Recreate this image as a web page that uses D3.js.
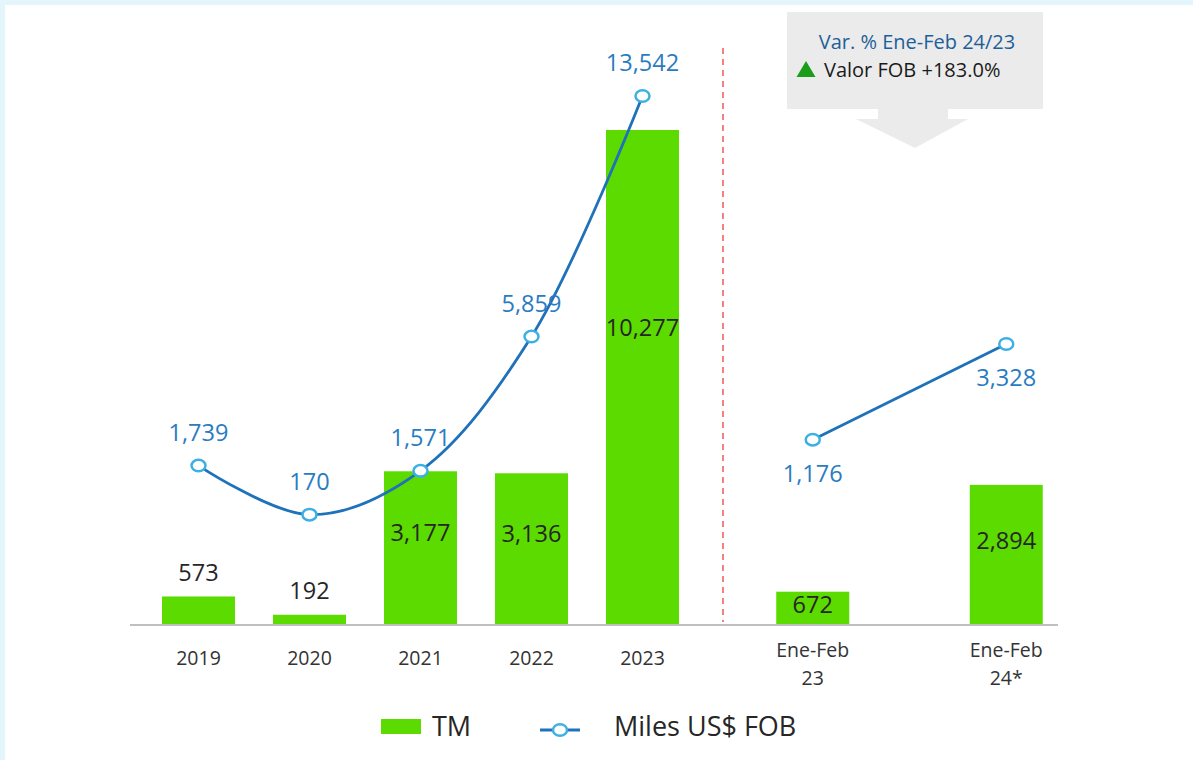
<!DOCTYPE html>
<html><head><meta charset="utf-8">
<script src="https://cdn.jsdelivr.net/npm/d3@7"></script>
<style>
html,body{margin:0;padding:0;background:#fff;}
svg{display:block;font-family:"Open Sans","Noto Sans",sans-serif;}
</style></head>
<body>
<svg id="chart" width="1193" height="760"></svg>
<script>
// ---- data ----
const yearCats = ["2019","2020","2021","2022","2023"];
const periodCats = ["Ene-Feb|23","Ene-Feb|24*"];
const tmYears = [573,192,3177,3136,10277];
const tmPeriods = [672,2894];
const fobYears = [1739,170,1571,5859,13542];
const fobPeriods = [1176,3328];
const legendLabels = ["TM","Miles US$ FOB"];
const calloutTitle = "Var. % Ene-Feb 24/23";
const calloutText = "Valor FOB +183.0%";

const svg = d3.select("#chart");
const W = 1193, H = 760;
const fmt = d3.format(",");

// frame
svg.append("rect").attr("x",0).attr("y",0).attr("width",W).attr("height",H).attr("fill","#e5f5fc");
svg.append("rect").attr("x",5).attr("y",5).attr("width",W-5).attr("height",H-5).attr("fill","#fff");

const baseline = 624;
const xYears = d3.scalePoint().domain(yearCats).range([143,698]).padding(0.5);
const xPer = d3.scalePoint().domain(periodCats).range([716,1103]).padding(0.5);
const yBar = d3.scaleLinear().domain([0, d3.max(tmYears.concat(tmPeriods))]).range([baseline,130]);
// the two panels each have their own value axis for the line
const yLineYears = d3.scaleLinear().domain([0, d3.max(fobYears)]).range([520,96]);
const yLinePer = d3.scaleLinear().domain([0, d3.max(fobPeriods)]).range([492,344]);
const barW = 73;
const green = "#5cdb00", lineCol = "#1f72b9", markCol = "#3db0e3", lblBlue = "#2a7cc1";

const years = yearCats.map((c,i)=>({cat:c,x:xYears(c),tm:tmYears[i],fob:fobYears[i],grp:0,ys:yLineYears}));
const pers = periodCats.map((c,i)=>({cat:c,x:xPer(c),tm:tmPeriods[i],fob:fobPeriods[i],grp:1,ys:yLinePer}));
const all = years.concat(pers);

// red dashed separator
svg.append("line").attr("x1",723).attr("x2",723).attr("y1",48).attr("y2",622)
  .attr("stroke","#ee5a5a").attr("stroke-width",1.5).attr("stroke-dasharray","6,5");

// bars
svg.selectAll("rect.bar").data(all).enter().append("rect").attr("class","bar")
  .attr("x",d=>d.x-barW/2).attr("width",barW)
  .attr("y",d=>yBar(d.tm)).attr("height",d=>baseline-yBar(d.tm)).attr("fill",green);

// axis line
svg.append("line").attr("x1",130).attr("x2",1058).attr("y1",baseline+1).attr("y2",baseline+1)
  .attr("stroke","#bfbfbf").attr("stroke-width",2);

// bar labels
svg.selectAll("text.bl").data(all).enter().append("text").attr("class","bl")
  .attr("x",d=>d.x)
  .attr("y",d=>{const top=yBar(d.tm), h=baseline-top; return d.tm<600 ? top-24 : top+0.4*h;})
  .attr("dy","0.35em").attr("text-anchor","middle").attr("font-size",23.5).attr("fill","#262626")
  .text(d=>fmt(d.tm));

// category labels
const cl = svg.selectAll("text.cl").data(all).enter().append("text").attr("class","cl")
  .attr("text-anchor","middle").attr("font-size",19.5).attr("fill","#333");
cl.each(function(d){
  const parts = d.cat.split("|");
  const t = d3.select(this);
  if(parts.length===1){
    t.append("tspan").attr("x",d.x).attr("y",665).text(parts[0]);
  } else {
    t.append("tspan").attr("x",d.x).attr("y",657).text(parts[0]);
    t.append("tspan").attr("x",d.x).attr("y",685).text(parts[1]);
  }
});

// lines
[years,pers].forEach(g=>{
  const ys = g[0].ys;
  const lineGen = d3.line().x(d=>d.x).y(d=>ys(d.fob)).curve(d3.curveCatmullRom.alpha(0.5));
  svg.append("path").datum(g).attr("d",lineGen).attr("fill","none")
    .attr("stroke",lineCol).attr("stroke-width",2.8);
});
svg.selectAll("ellipse.mk").data(all).enter().append("ellipse").attr("class","mk")
  .attr("cx",d=>d.x).attr("cy",d=>d.ys(d.fob)).attr("rx",7).attr("ry",5.8)
  .attr("fill","#fff").attr("stroke",markCol).attr("stroke-width",2.5);

// line labels
svg.selectAll("text.ll").data(all).enter().append("text").attr("class","ll")
  .attr("x",d=>d.x)
  .attr("y",d=>d.grp===0 ? d.ys(d.fob)-33 : d.ys(d.fob)+34)
  .attr("dy","0.35em").attr("text-anchor","middle").attr("font-size",23.5).attr("fill",lblBlue)
  .text(d=>fmt(d.fob));

// callout
const cg = svg.append("g");
cg.append("rect").attr("x",787).attr("y",12).attr("width",256).attr("height",97).attr("fill","#ebebeb");
cg.append("path").attr("d","M878,108 L948,108 L948,119 L968,119 L915,148 L856,119 L878,119 Z").attr("fill","#ebebeb");
cg.append("text").attr("x",917).attr("y",49).attr("text-anchor","middle").attr("font-size",20)
  .attr("fill","#1f5f99").text(calloutTitle);
cg.append("path").attr("d","M806,61 L815.5,77 L796.5,77 Z").attr("fill","#1a9e1a");
cg.append("text").attr("x",824).attr("y",77).attr("font-size",20).attr("fill","#1a1a1a").text(calloutText);

// legend
const lg = svg.append("g");
lg.append("rect").attr("x",381).attr("y",719).attr("width",40).attr("height",15).attr("fill",green);
lg.append("text").attr("x",432).attr("y",727).attr("dy","0.35em").attr("font-size",27).attr("fill","#262626").text(legendLabels[0]);
lg.append("line").attr("x1",540).attr("x2",580).attr("y1",730).attr("y2",730).attr("stroke",lineCol).attr("stroke-width",2.8);
lg.append("ellipse").attr("cx",560).attr("cy",730).attr("rx",7).attr("ry",5.8).attr("fill","#fff").attr("stroke",markCol).attr("stroke-width",2.5);
lg.append("text").attr("x",614).attr("y",727).attr("dy","0.35em").attr("font-size",27).attr("fill","#262626").text(legendLabels[1]);
</script>
</body></html>
